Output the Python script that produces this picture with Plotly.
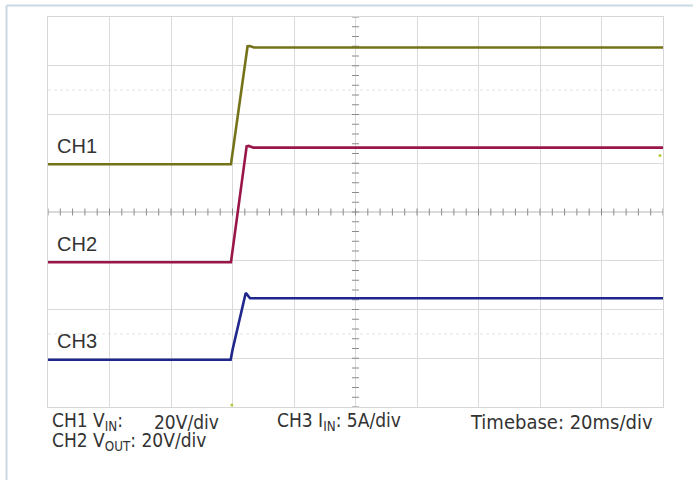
import numpy as np
import plotly.graph_objects as go

# ---------------- data (time in ms, 20 ms/div) ----------------
ch1_t = [0, 59.5, 64.9, 65.6, 67.0, 200]
ch1_v = [0, 0, 48.4, 48.5, 47.9, 47.9]          # V_IN  (20 V/div)
ch2_t = [0, 59.5, 64.6, 65.3, 66.8, 200]
ch2_v = [0, 0, 47.5, 47.7, 47.0, 47.0]          # V_OUT (20 V/div)
ch3_t = [0, 59.4, 60.0, 64.3, 65.7, 200]
ch3_i = [0, 0, 1.0, 6.85, 6.3, 6.3]             # I_IN  (5 A/div)

labels = ["CH1", "CH2", "CH3"]
scales = [20, 20, 5]            # units per division
offsets = [4.98, 2.97, 0.97]    # ground level of each channel (div)
colors = ["#75731a", "#9a1648", "#1f268c"]

W, H = 693, 480
L, R, T, B = 48, 663, 17, 407   # plot area in pixels


def px_x(px):
    return (px - L) / (R - L)


def px_y(py):
    return (B - py) / (B - T)


fig = go.Figure()

# grid decorations: centre-line tick marks
tick_x = np.arange(0, 200.01, 4)
tick_y = np.arange(0, 8.01, 0.2)
fig.add_trace(go.Scatter(x=tick_x, y=[4] * len(tick_x), mode="markers",
                         marker=dict(symbol="line-ns", size=5, line=dict(width=1, color="#8a8a8a")),
                         hoverinfo="skip", showlegend=False))
fig.add_trace(go.Scatter(x=[100] * len(tick_y), y=tick_y, mode="markers",
                         marker=dict(symbol="line-ew", size=5, line=dict(width=1, color="#8a8a8a")),
                         hoverinfo="skip", showlegend=False))

series = [(ch1_t, ch1_v), (ch2_t, ch2_v), (ch3_t, ch3_i)]
for (t, v), sc, off, col, name in zip(series, scales, offsets, colors, labels):
    fig.add_trace(go.Scatter(x=t, y=[off + val / sc for val in v], mode="lines",
                             line=dict(color=col, width=2.6), name=name,
                             showlegend=False))

# small position markers
fig.add_trace(go.Scatter(x=[59.8, 199.0], y=[0.04, 5.16], mode="markers",
                         marker=dict(size=3, color="#b8c83a"), cliponaxis=False,
                         hoverinfo="skip", showlegend=False))

shapes = []
# faint dotted lines
for yv in [6.5, 1.5]:
    shapes.append(dict(type="line", xref="x", yref="y", x0=0, x1=200, y0=yv, y1=yv,
                       line=dict(color="#e2e2e2", width=1, dash="dot"), layer="below"))
# centre lines
shapes.append(dict(type="line", xref="x", yref="y", x0=0, x1=200, y0=4, y1=4,
                   line=dict(color="#b4b4b4", width=1), layer="below"))
shapes.append(dict(type="line", xref="x", yref="y", x0=100, x1=100, y0=0, y1=8,
                   line=dict(color="#a8a8a8", width=1), layer="below"))
# outer frame (top and left)
shapes.append(dict(type="line", xref="paper", yref="paper", x0=px_x(6.5), x1=px_x(700),
                   y0=px_y(5.5), y1=px_y(5.5), line=dict(color="#c9d9e3", width=2)))
shapes.append(dict(type="line", xref="paper", yref="paper", x0=px_x(6.5), x1=px_x(6.5),
                   y0=px_y(5.5), y1=px_y(485), line=dict(color="#c9d9e3", width=2)))

txt = "#333333"
lab_font = dict(family="Liberation Sans, Arial, sans-serif", size=20, color=txt)
bot_font = dict(family="DejaVu Sans Condensed, Liberation Sans, sans-serif",
                size=19, color=txt)
bot_font_big = dict(bot_font, size=20)

annotations = []
for name, cy in zip(labels, [145.5, 244.5, 340.5]):
    annotations.append(dict(text=name, xref="paper", yref="paper", x=px_x(55), y=px_y(cy),
                            xanchor="left", yanchor="middle", showarrow=False, font=lab_font))

bottom = [
    ("CH1 V<sub>IN</sub>:", 50, 421.7, "left", bot_font),
    ("20V/div", 151.5, 421.7, "left", bot_font),
    ("CH2 V<sub>OUT</sub>: 20V/div", 50, 441.5, "left", bot_font),
    ("CH3 I<sub>IN</sub>: 5A/div", 274.5, 421.7, "left", bot_font),
    ("Timebase: 20ms/div", 655, 421.7, "right", bot_font_big),
]
for text, x, y, anc, f in bottom:
    annotations.append(dict(text=text, xref="paper", yref="paper", x=px_x(x), y=px_y(y),
                            xanchor=anc, yanchor="middle", showarrow=False, font=f))

axis_common = dict(showticklabels=False, ticks="", zeroline=False, showgrid=True,
                   gridcolor="#dadada", gridwidth=1, showline=True, linecolor="#d6d6d6",
                   linewidth=1, mirror=True, fixedrange=True)

fig.update_layout(
    width=W, height=H, autosize=False,
    margin=dict(l=L, r=W - R, t=T, b=H - B),
    paper_bgcolor="white", plot_bgcolor="white",
    xaxis=dict(range=[0, 200], dtick=20, tick0=0, **axis_common),
    yaxis=dict(range=[0, 8], dtick=1, tick0=0, **axis_common),
    shapes=shapes, annotations=annotations,
)

fig.write_html("out.html", config={"displayModeBar": False},
               post_script="document.body.style.margin='0px';document.body.style.padding='0px';")
